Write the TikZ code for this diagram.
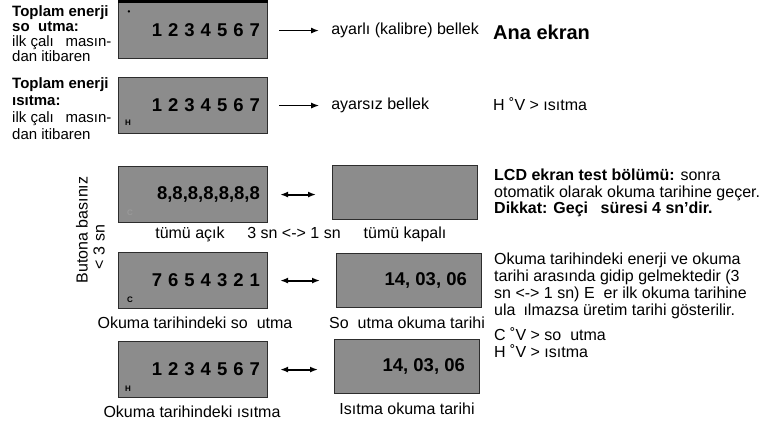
\documentclass[tikz,border=0pt]{standalone}
\usepackage{fontspec}
\setmainfont{Liberation Sans}
\usetikzlibrary{arrows.meta}
\definecolor{lcdgray}{RGB}{140,140,140}
\definecolor{lcdline}{RGB}{45,45,45}
\makeatletter
\newcommand\lcdnum[1]{\@tfor\dg:=#1\do{\dg\kern6pt}\kern-6pt}
\makeatother

\begin{document}
\begin{tikzpicture}[x=1pt,y=-1pt,
  lcd/.style={rectangle,draw=lcdline,line width=1.1pt,fill=lcdgray,minimum width=149pt,minimum height=56pt,inner sep=0pt,anchor=north west},
  lcdr/.style={lcd,minimum width=145pt,minimum height=54pt},
  num/.style={font=\fontsize{18.5}{18.5}\selectfont\bfseries,inner sep=0pt,anchor=east},
  ind/.style={font=\fontsize{8}{8}\selectfont\bfseries,inner sep=0pt},
  txt/.style={font=\fontsize{16}{17}\selectfont,inner sep=0pt},
  lbl/.style={txt,anchor=base},
  para/.style={txt,align=left,anchor=north west},
  one/.style={-{Latex[length=8pt,width=6pt]},line width=1.9pt},
  two/.style={{Latex[length=8pt,width=6pt]}-{Latex[length=8pt,width=6pt]},line width=1.9pt}]

\useasboundingbox (0,0) rectangle (765,425);

% main screen
\node[lcd] (sog) at (118,2) {};
\draw[line width=3pt] (sog.north west) -- (sog.north east);
\node[num] (sogn) at ([xshift=-8pt]sog.east) {\lcdnum{1234567}};
\node[ind] (sogi) at ([xshift=11pt,yshift=-11pt]sog.north west) {•};
\node[lcd] (isi) at (118,77) {};
\node[num] (isin) at ([xshift=-8pt]isi.east) {\lcdnum{1234567}};
\node[ind] (isii) at ([xshift=10pt,yshift=11pt]isi.south west) {H};

\node[para,font=\fontsize{15}{15}\selectfont] (sogt) at (12,5) {\textbf{Toplam enerji}\\\textbf{so\hspace{.56em}utma:}\\ilk çalı\hspace{.5em} masın-\\dan itibaren};
\node[para,font=\fontsize{15}{17}\selectfont] (isit) at (12,77) {\textbf{Toplam enerji}\\\textbf{ısıtma:}\\ilk çalı\hspace{.5em} masın-\\dan itibaren};

\node[txt,anchor=west] (cal) at ([xshift=63pt]sog.east) {ayarlı (kalibre) bellek};
\draw[one,shorten <=11pt,shorten >=12pt] (sog) -- (cal);
\node[txt,anchor=west] (unc) at ([xshift=63pt]isi.east) {ayarsız bellek};
\draw[one,line width=1.1pt,shorten <=11pt,shorten >=12pt] (isi) -- (unc);
\node[anchor=west,inner sep=0pt,font=\fontsize{20}{20}\selectfont\bfseries] (ana) at (493,32) {Ana ekran};
\node[txt,anchor=west] (hv) at (493,104) {H ˚V > ısıtma};

% test screens
\node[txt,rotate=90] (btn) at (82,230) {Butona basınız};
\node[txt,rotate=90] (btnb) at (99,247) {< 3 sn};

\node[lcd] (acl) at (118,166) {};
\node[num] (acln) at ([xshift=-8pt]acl.east) {8,8,8,8,8,8,8};
\node[ind,text=black!40] (acli) at ([xshift=12pt,yshift=10pt]acl.south west) {C};
\node[lcdr] (acr) at (332,165) {};
\draw[two,shorten <=12pt,shorten >=16pt] (acl.east) -- (acl.east -| acr.west);
\node[lbl] (acik) at (190,238.5) {tümü açık};
\node[lbl] (sure) at (294,238.5) {3 sn <-> 1 sn};
\node[lbl] (kapa) at (acr.center |- acik.base) {tümü kapalı};

% reading screens
\node[lcd] (ocl) at (118,252) {};
\node[num] (ocln) at ([xshift=-8pt]ocl.east) {\lcdnum{7654321}};
\node[ind] (ocli) at ([xshift=12pt,yshift=9pt]ocl.south west) {C};
\node[lcdr] (ocr) at (336,253) {};
\node[num] (ocrn) at ([xshift=-15pt]ocr.east) {14, 03, 06};
\draw[two,shorten <=12pt,shorten >=16pt] (ocl.east) -- (ocl.east -| ocr.west);
\node[lbl] (oclt) at (195,328.5) {Okuma tarihindeki so\hspace{.56em}utma};
\node[lbl] (ocrt) at (407,328.5) {So\hspace{.56em}utma okuma tarihi};

\node[lcd] (hcl) at (118,341) {};
\node[num] (hcln) at ([xshift=-8pt]hcl.east) {\lcdnum{1234567}};
\node[ind] (hcli) at ([xshift=10pt,yshift=9pt]hcl.south west) {H};
\node[lcdr] (hcr) at (334,339) {};
\node[num] (hcrn) at ([xshift=-15pt]hcr.east) {14, 03, 06};
\draw[two,shorten <=12pt,shorten >=16pt] (hcl.east) -- (hcl.east -| hcr.west);
\node[lbl] (hclt) at (192,417) {Okuma tarihindeki ısıtma};
\node[lbl] (hcrt) at (407,414) {Isıtma okuma tarihi};

% notes
\node[para,font=\fontsize{16}{16.5}\selectfont] (test) at (494,169) {\textbf{LCD ekran test bölümü:} sonra\\otomatik olarak okuma tarihine geçer.\\\textbf{Dikkat: Geçi\hspace{.5em} süresi 4 sn'dir.}};
\node[para] (oku) at (494,253) {Okuma tarihindeki enerji ve okuma\\tarihi arasında gidip gelmektedir (3\\sn <-> 1 sn) E\hspace{.56em}er ilk okuma tarihine\\ula\hspace{.5em}ılmazsa üretim tarihi gösterilir.};
\node[para] (cv) at (494,327) {C ˚V > so\hspace{.56em}utma\\H ˚V > ısıtma};
\end{tikzpicture}
\end{document}
